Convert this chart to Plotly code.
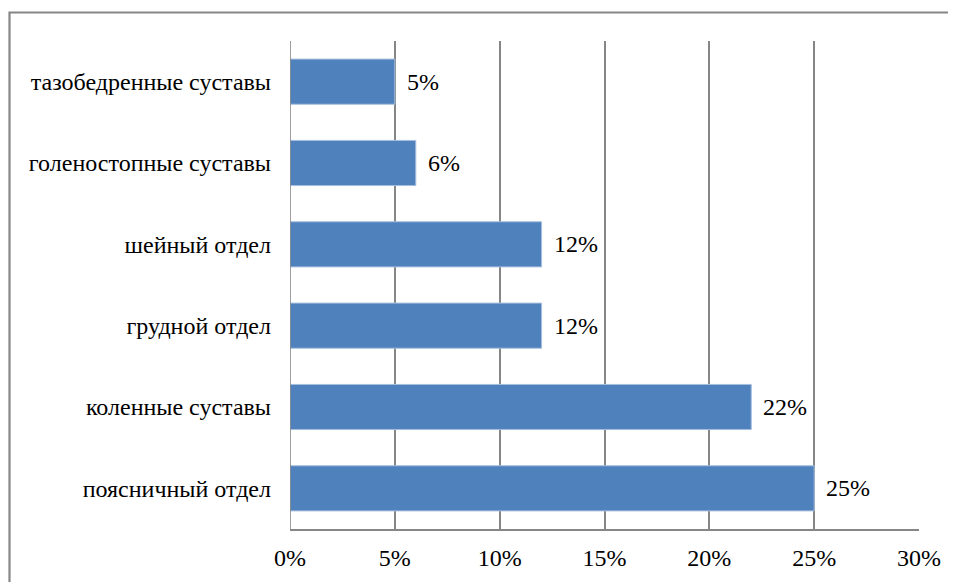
import plotly.graph_objects as go

categories = ["поясничный отдел", "коленные суставы", "грудной отдел",
              "шейный отдел", "голеностопные суставы", "тазобедренные суставы"]
values = [0.25, 0.22, 0.12, 0.12, 0.06, 0.05]
tick_vals = [0, 0.05, 0.10, 0.15, 0.20, 0.25, 0.30]

FONT = "Liberation Serif, Times New Roman, serif"
OFF = 8  # page body margin offset
W, H = 956 - OFF, 582 - OFF
L, R, T, B = 290 - OFF, 37, 41 - OFF, 53
pw, ph = W - L - R, H - T - B
FS = 24

fig = go.Figure(go.Bar(
    y=categories, x=values, orientation="h",
    marker=dict(color="#4F81BD", line=dict(color="#A7BFDE", width=1)),
    width=0.555,
))

for c, v in zip(categories, values):
    fig.add_annotation(x=v, y=c, xref="x", yref="y", text=f"{round(v*100)}%",
                       showarrow=False, xanchor="left", xshift=10,
                       font=dict(family=FONT, size=FS, color="#000000"))

fig.update_layout(
    width=W, height=H,
    margin=dict(l=L, r=R, t=T, b=B),
    paper_bgcolor="white", plot_bgcolor="white",
    font=dict(family=FONT, size=FS, color="#000000"),
    showlegend=False,
    xaxis=dict(range=[0, 0.30], tickvals=tick_vals, tickformat=".0%",
               showgrid=True, gridcolor="#868686", gridwidth=1.6,
               showline=True, linecolor="#868686", linewidth=1.6,
               zeroline=False, ticks="", ticklabelstandoff=6,
               automargin=False, fixedrange=True),
    yaxis=dict(showgrid=False, showline=False, zeroline=False, ticks="",
               ticklabelstandoff=18, automargin=False, fixedrange=True),
)
fig.add_shape(type="line", xref="x", yref="paper", x0=0, x1=0, y0=0, y1=1,
              line=dict(color="#868686", width=1.6))
fig.add_shape(type="rect", xref="paper", yref="paper",
              x0=(9.5 - OFF - L) / pw, x1=(965 - L) / pw,
              y0=(H - B - 600) / ph, y1=(H - B - (12.5 - OFF)) / ph,
              line=dict(color="#868686", width=2.2), fillcolor="rgba(0,0,0,0)",
              layer="above")

fig.write_html("out.html")
